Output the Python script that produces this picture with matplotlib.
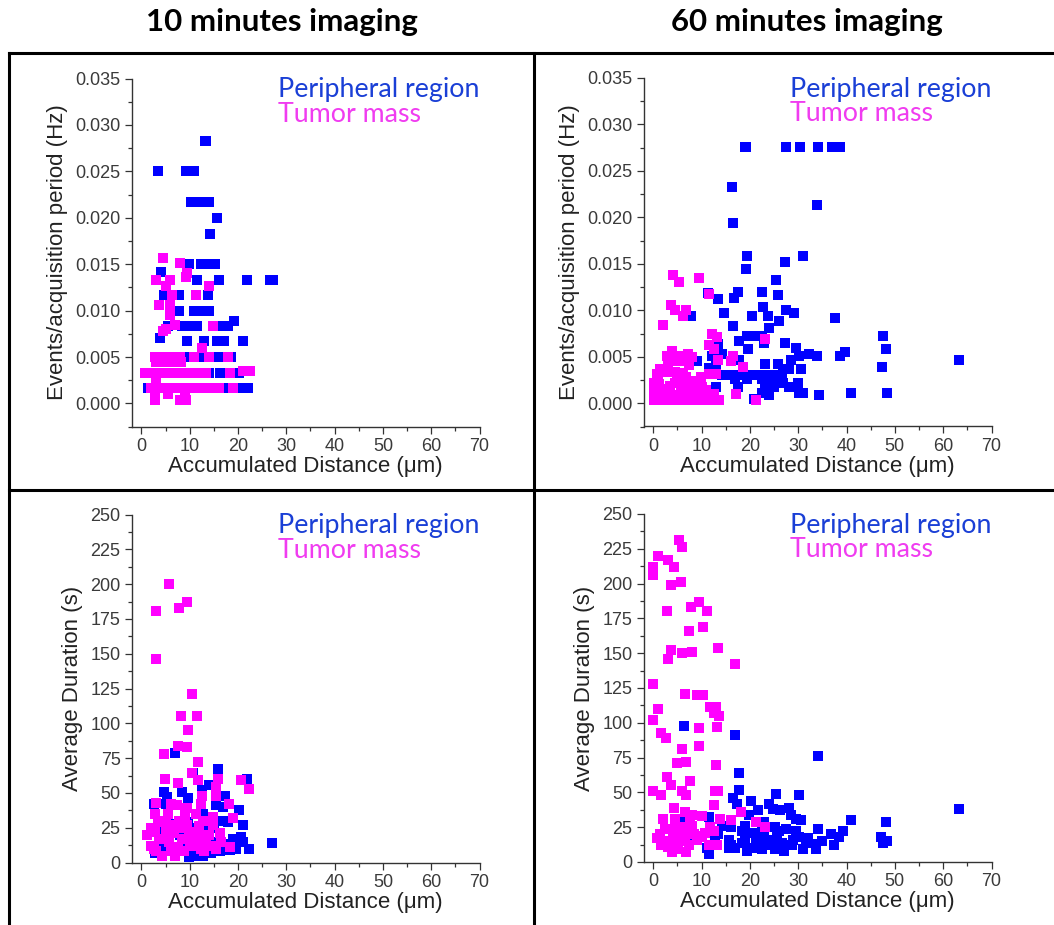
import matplotlib
matplotlib.use("Agg")
import matplotlib.pyplot as plt
from matplotlib.lines import Line2D
from matplotlib.ticker import MultipleLocator, FormatStrFormatter

plt.rcParams['font.family'] = ['Liberation Sans', 'DejaVu Sans']

# ---------------- 10 minutes: events / acquisition period ----------------
ev10_periph_x = [13.1, 13.4, 3.4, 9.2, 10.1, 11.0, 10.3, 12.4, 13.9, 15.7, 14.3,
                 9.8, 12.3, 14.1, 15.2, 4.0, 11.5, 16.0, 21.9, 26.7, 27.2,
                 4.7, 7.7, 13.8, 7.8, 10.8, 12.4, 14.1, 19.1,
                 5.5, 8.5, 10.0, 11.5, 17.0, 17.9, 3.9,
                 9.5, 12.9, 15.6, 17.2, 21.0,
                 2.8, 4.7, 9.3, 12.4, 16.0, 18.6,
                 1.5, 3.0, 14.1, 16.2, 18.3, 20.3,
                 1.4, 17.6, 20.3, 21.5, 22.1]
ev10_periph_y = [0.0283, 0.0283, 0.025, 0.025, 0.025, 0.025, 0.0217, 0.0217, 0.0217, 0.020, 0.0183,
                 0.015, 0.015, 0.015, 0.015, 0.0142, 0.0133, 0.0133, 0.0133, 0.0133, 0.0133,
                 0.0117, 0.0117, 0.0117, 0.010, 0.010, 0.010, 0.010, 0.0089,
                 0.0083, 0.0083, 0.0083, 0.0083, 0.0083, 0.0083, 0.0070,
                 0.0067, 0.0067, 0.0067, 0.0067, 0.0067,
                 0.005, 0.005, 0.005, 0.005, 0.005, 0.005,
                 0.0033, 0.0033, 0.0033, 0.0033, 0.0033, 0.0033,
                 0.0017, 0.0017, 0.0017, 0.0017, 0.0017]

ev10_tumor_x = [4.5, 8.1, 9.4, 9.2, 3.1, 6.0, 5.0, 14.0, 6.3, 11.4, 3.7, 6.0, 6.0, 6.9, 14.8,
                4.5, 5.2, 12.6,
                2.8, 3.8, 4.8, 5.8, 6.9, 7.9, 11.0, 14.1, 18.0,
                3.1, 5.2, 6.5, 8.3,
                0.7, 1.8, 2.8, 4.0, 5.2, 6.3, 7.5, 8.7, 10.0, 11.5, 13.4, 18.3, 21.0, 22.5,
                2.0, 3.0, 4.2, 5.3, 6.5, 7.6, 8.8, 10.0, 11.2, 12.4, 13.6, 14.8, 16.0, 19.0,
                3.0, 3.0, 2.8, 2.8, 5.5, 9.0, 2.8, 7.9, 9.3]
ev10_tumor_y = [0.0157, 0.0151, 0.0141, 0.0136, 0.0133, 0.0133, 0.0126, 0.0126, 0.0117, 0.0117,
                0.0106, 0.0106, 0.0095, 0.0085, 0.0083,
                0.0078, 0.0080, 0.0060,
                0.005, 0.005, 0.005, 0.005, 0.005, 0.005, 0.005, 0.005, 0.005,
                0.0045, 0.0045, 0.0045, 0.0045,
                0.0033, 0.0033, 0.0033, 0.0033, 0.0033, 0.0033, 0.0033, 0.0033, 0.0033, 0.0033,
                0.0033, 0.0033, 0.0035, 0.0035,
                0.0017, 0.0017, 0.0017, 0.0017, 0.0017, 0.0017, 0.0017, 0.0017, 0.0017, 0.0017,
                0.0017, 0.0017, 0.0017, 0.0017,
                0.0027, 0.0022, 0.0012, 0.0010, 0.0010, 0.0010, 0.0004, 0.0004, 0.0004]

# ---------------- 60 minutes: events / acquisition period ----------------
ev60_periph_x = [18.9, 19.2, 27.5, 30.3, 34.1, 36.9, 38.6, 16.3, 33.9, 16.6, 19.4, 31.0, 27.2,
                 19.2, 25.4, 11.4, 13.4, 16.8, 17.5, 22.5, 25.8, 22.7, 14.7, 7.9, 20.4, 23.7,
                 27.5, 29.2, 37.6, 16.6, 26.1, 23.9, 47.6, 17.8, 19.5, 21.0, 22.6, 27.2, 23.0,
                 13.4, 48.1, 19.7, 29.6, 39.6, 38.6, 32.2, 33.9, 30.1, 14.3, 12.1, 63.2, 47.3,
                 6.0, 9.1, 17.8, 23.2, 25.8, 26.8, 28.2, 30.5, 28.6, 13.0, 11.6,
                 14.3, 15.5, 16.5, 17.5, 18.7, 19.9, 21.0, 22.0, 23.2, 24.5, 25.5, 26.6,
                 17.0, 19.4, 22.6, 24.9, 23.9, 26.0, 30.0, 26.8,
                 17.5, 25.1, 28.0, 23.2, 13.0, 22.6, 30.2, 31.0, 41.0, 48.4, 23.9, 34.4, 20.8]
ev60_periph_y = [0.0276, 0.0276, 0.0276, 0.0276, 0.0276, 0.0276, 0.0276, 0.0233, 0.0213, 0.0194,
                 0.0158, 0.0158, 0.0152, 0.0144, 0.0133, 0.0119, 0.0112, 0.0113, 0.0120, 0.0120,
                 0.0117, 0.0104, 0.0097, 0.0094, 0.0094, 0.0094, 0.0100, 0.0097, 0.0092, 0.0083,
                 0.0088, 0.0081, 0.0072, 0.0067, 0.0072, 0.0072, 0.0072, 0.0065, 0.0065, 0.0064,
                 0.0058, 0.0058, 0.0059, 0.0055, 0.0051, 0.0053, 0.0051, 0.0051, 0.0053, 0.0051,
                 0.0047, 0.0039, 0.0045, 0.0045, 0.0047, 0.0042, 0.0042, 0.0037, 0.0037, 0.0037,
                 0.0047, 0.0040, 0.0038,
                 0.0030, 0.0030, 0.0030, 0.0030, 0.0030, 0.0030, 0.0030, 0.0030, 0.0030, 0.0030,
                 0.0030, 0.0030,
                 0.0026, 0.0026, 0.0026, 0.0026, 0.0022, 0.0022, 0.0022, 0.0022,
                 0.0017, 0.0017, 0.0017, 0.0017, 0.0017, 0.0011, 0.0011, 0.0011, 0.0011, 0.0011,
                 0.0009, 0.0009, 0.0005]

ev60_tumor_x = [4.2, 5.3, 9.5, 11.6, 3.7, 4.6, 6.7, 6.2, 2.1, 12.1, 13.2, 23.2, 11.6, 12.6,
                13.5, 16.6, 16.1, 18.5, 17.1, 21.3, 11.6, 13.0,
                3.8, 2.8, 5.7, 7.3, 8.1, 3.3, 5.0, 6.6, 1.5, 2.6, 4.6, 6.2, 0.7, 6.7, 8.1,
                0.1, 4.6, 9.5, 10.2, 0.1, 1.9, 5.7, 7.4, 0.1, 1.5, 4.0, 6.7, 8.8, 12.6,
                0.1, 1.9, 3.3, 5.3, 7.4, 9.5, 11.6, 13.7, 1.2, 10.5,
                0.5, 1.0, 2.5, 3.5, 5.0, 6.0, 7.0, 8.5, 9.8, 11.0, 12.0, 3.0, 7.5,
                0.5, 2.0, 4.8, 6.2, 9.0, 10.8]
ev60_tumor_y = [0.0138, 0.0131, 0.0135, 0.0118, 0.0106, 0.0100, 0.0100, 0.0094, 0.0084, 0.0075,
                0.0071, 0.0069, 0.0063, 0.0058, 0.0047, 0.0051, 0.0045, 0.0039, 0.0010, 0.0003,
                0.0032, 0.0031,
                0.0056, 0.0051, 0.0051, 0.0053, 0.0050, 0.0045, 0.0045, 0.0046, 0.0037, 0.0034,
                0.0034, 0.0033, 0.0031, 0.0028, 0.0024,
                0.0022, 0.0022, 0.0022, 0.0017, 0.0015, 0.0015, 0.0015, 0.0015,
                0.0008, 0.0009, 0.0009, 0.0009, 0.0009, 0.0010,
                0.0003, 0.0003, 0.0003, 0.0003, 0.0003, 0.0003, 0.0003, 0.0003, 0.0021, 0.0010,
                0.0018, 0.0026, 0.0012, 0.0019, 0.0026, 0.0013, 0.0020, 0.0015, 0.0028, 0.0014,
                0.0006, 0.0040, 0.0041,
                0.0013, 0.0005, 0.0006, 0.0005, 0.0005, 0.0004]

# ---------------- 10 minutes: average duration ----------------
dur10_periph_x = [7.0, 15.9, 21.8, 10.6, 4.7, 8.5, 12.6, 13.9, 5.4, 9.6, 17.3, 2.6, 5.0, 15.5,
                  16.9, 20.2, 12.7, 16.9, 9.6, 21.0, 27.0, 22.2, 13.4, 11.3, 19.0, 20.6, 14.8,
                  16.2, 3.6, 2.9, 5.7, 9.9, 10.6, 12.7, 14.5, 16.2, 18.3, 15.5, 12.7, 9.9, 7.1,
                  8.5, 6.4, 3.6, 14.1, 12.0,
                  6.0, 8.0, 10.0, 13.0, 15.0, 17.5, 19.5, 11.5, 7.5, 4.5, 18.0, 21.0]
dur10_periph_y = [79, 67, 60, 64, 51, 51, 52, 56, 47, 46, 48, 42, 42, 41,
                  40, 38, 35, 30, 29, 27, 14, 10, 24, 21, 17, 18, 15,
                  12, 24, 7, 9, 4, 5, 5, 7, 8, 9, 10, 14, 17, 23,
                  12, 11, 15, 20, 8,
                  28, 20, 25, 18, 25, 13, 10, 12, 9, 12, 29, 15]

dur10_tumor_x = [5.7, 3.1, 7.8, 9.4, 3.1, 10.4, 8.3, 11.5, 9.6, 4.7, 7.6, 9.4, 11.8, 4.9, 7.5,
                 10.4, 11.8, 15.9, 20.6, 22.2, 3.1, 2.9, 6.1, 7.3, 12.6, 12.4, 15.5, 15.5, 18.2,
                 19.0, 14.9, 9.4, 11.3, 12.7, 7.8, 5.0, 14.8, 16.2, 18.3,
                 1.2, 1.9, 2.9, 3.6, 4.3, 5.0, 5.7, 6.8, 7.5, 8.5, 8.9, 9.9, 10.6, 11.7, 12.4,
                 13.4, 14.1, 15.5, 2.6, 4.0, 6.1, 9.4, 11.9,
                 2.0, 3.5, 5.5, 6.5, 8.0, 9.0, 10.0, 12.0, 13.0, 14.5, 3.0, 5.0, 7.0, 16.5]
dur10_tumor_y = [200, 181, 183, 187, 146, 121, 105, 105, 95, 78, 84, 83, 72, 60, 57,
                 64, 59, 60, 59, 53, 43, 35, 42, 41, 48, 42, 54, 48, 42,
                 32, 33, 39, 35, 30, 30, 29, 27, 21, 11,
                 20, 12, 22, 17, 5, 24, 15, 21, 11, 17, 8, 22, 12, 17, 10,
                 15, 20, 10, 10, 29, 8, 27, 26,
                 25, 30, 35, 27, 25, 34, 15, 20, 8, 12, 8, 18, 5, 15]

# ---------------- 60 minutes: average duration ----------------
dur60_periph_x = [6.4, 17.0, 34.2, 17.7, 17.7, 16.5, 17.4, 20.3, 25.5, 30.2, 24.0, 24.7, 26.2,
                  28.1, 28.5, 19.8, 21.7, 63.2, 41.0, 48.1, 34.0, 36.8, 39.2, 38.5, 37.5, 47.2,
                  47.6, 48.3, 29.5, 30.6, 27.4, 25.3, 22.9, 11.5, 6.6, 8.0, 11.5, 11.1, 14.2,
                  12.8, 15.6, 17.0, 18.4, 19.4, 20.5, 21.9, 22.6, 24.0, 25.3, 26.7, 27.1, 28.8,
                  30.2, 30.9, 31.6, 33.7, 33.7, 18.4, 22.6, 19.1, 21.2, 24.3, 15.6, 25.6, 29.5,
                  13.5, 16.0, 19.0, 23.0, 26.0, 29.0, 32.0, 35.0, 21.0, 26.0, 16.0]
dur60_periph_y = [98, 91, 76, 64, 52, 46, 42, 44, 49, 48, 42, 38, 37,
                  39, 34, 34, 37, 38, 30, 29, 24, 20, 22, 18, 12, 18,
                  14, 15, 31, 30, 24, 25, 29, 32, 29, 18, 6, 10, 26,
                  16, 16, 10, 14, 8, 21, 13, 9, 16, 9, 14, 8, 12,
                  18, 9, 14, 13, 9, 22, 22, 26, 16, 12, 10, 19, 22,
                  20, 25, 15, 18, 22, 16, 17, 15, 10, 12, 12]

dur60_tumor_x = [5.3, 5.9, 1.0, 3.1, 4.4, 0.0, 0.0, 0.0, 3.7, 5.8, 9.4, 7.8, 11.1, 2.9, 10.4,
                 7.4, 13.5, 3.6, 3.0, 6.0, 8.0, 16.9, 0.0, 6.6, 9.0, 10.4, 11.8, 13.1, 13.7,
                 12.5, 1.0, 0.0, 9.5, 13.3, 1.7, 2.6, 9.4, 6.0, 4.9, 6.7, 13.0, 0.0, 1.7, 2.8,
                 3.6, 7.6, 5.9, 6.7, 12.7, 13.5, 12.5, 4.3, 4.5, 6.6, 8.0, 10.1, 13.8, 16.0,
                 18.1, 21.2, 23.1, 2.4, 4.5, 5.6, 6.9, 9.0, 10.8, 11.8, 11.5, 13.2, 0.7, 1.7,
                 3.1, 3.8, 5.2, 6.6, 6.7, 9.0, 8.0, 3.1, 5.9, 7.6,
                 1.5, 2.5, 4.0, 5.0, 7.5, 8.5, 10.0, 12.5, 2.0, 6.0]
dur60_tumor_y = [231, 226, 220, 217, 212, 212, 208, 206, 199, 201, 187, 183, 180, 180, 169,
                 166, 154, 152, 146, 150, 151, 142, 128, 121, 120, 120, 111, 111, 105,
                 107, 110, 102, 96, 97, 93, 89, 83, 81, 71, 72, 70, 51, 48, 61,
                 55, 58, 51, 48, 51, 51, 41, 39, 31, 36, 34, 33, 31, 30,
                 36, 29, 25, 24, 25, 21, 22, 19, 21, 25, 12, 12, 17, 12,
                 15, 7, 12, 15, 7, 16, 26, 11, 18, 30,
                 20, 14, 18, 9, 12, 20, 18, 22, 31, 25]

BLUE = '#0000ff'
MAGENTA = '#ff00ff'
LEG_BLUE = '#1a3fd6'
LEG_MAGENTA = '#f03cf0'
AX_GREY = '#333333'

W, H = 1054, 925
fig = plt.figure(figsize=(W / 100, H / 100), dpi=100)


def px_axes(left, top, right, bottom):
    # axes rectangle given in pixel coordinates (origin top-left)
    return fig.add_axes([left / W, 1 - bottom / H, (right - left) / W, (bottom - top) / H])


def draw_panel(ax, px, py, tx, ty, ylim, ymaj, yfmt, ylabel):
    ax.plot(px, py, 's', color=BLUE, ms=6.9, mew=0, zorder=3)
    ax.plot(tx, ty, 's', color=MAGENTA, ms=6.9, mew=0, zorder=4)
    ax.set_xlim(-2, 70)
    ax.set_ylim(*ylim)
    ax.xaxis.set_major_locator(MultipleLocator(10))
    ax.xaxis.set_minor_locator(MultipleLocator(5))
    ax.yaxis.set_major_locator(MultipleLocator(ymaj))
    ax.yaxis.set_minor_locator(MultipleLocator(ymaj / 2))
    ax.yaxis.set_major_formatter(FormatStrFormatter(yfmt))
    for s in ('top', 'right'):
        ax.spines[s].set_visible(False)
    for s in ('left', 'bottom'):
        ax.spines[s].set_color(AX_GREY)
        ax.spines[s].set_linewidth(1.0)
    ax.tick_params(which='major', direction='out', length=5, width=0.9,
                   color=AX_GREY, labelsize=13, labelcolor='#3a3a3a', pad=3)
    ax.tick_params(which='minor', direction='out', length=3, width=0.9, color=AX_GREY)
    ax.set_xlabel('Accumulated Distance (μm)', fontsize=16, color='#222222', labelpad=1)
    ax.set_ylabel(ylabel, fontsize=16, color='#222222', labelpad=5)
    ax.text(0.42, 0.968, 'Peripheral region', transform=ax.transAxes, color=LEG_BLUE,
            fontsize=19.3, family='Lato', va='center', ha='left')
    ax.text(0.42, 0.897, 'Tumor mass', transform=ax.transAxes, color=LEG_MAGENTA,
            fontsize=19.3, family='Lato', va='center', ha='left')


ax1 = px_axes(131.7, 78.5, 479.5, 426.7)
ax2 = px_axes(643.5, 78.0, 991.5, 426.5)
ax3 = px_axes(131.7, 514.5, 479.5, 862.5)
ax4 = px_axes(643.5, 514.0, 991.5, 862.0)

ev_label = 'Events/acquisition period (Hz)'
dur_label = 'Average Duration (s)'
draw_panel(ax1, ev10_periph_x, ev10_periph_y, ev10_tumor_x, ev10_tumor_y,
           (-0.0025, 0.035), 0.005, '%.3f', ev_label)
draw_panel(ax2, ev60_periph_x, ev60_periph_y, ev60_tumor_x, ev60_tumor_y,
           (-0.0025, 0.035), 0.005, '%.3f', ev_label)
draw_panel(ax3, dur10_periph_x, dur10_periph_y, dur10_tumor_x, dur10_tumor_y,
           (0, 250), 25, '%d', dur_label)
draw_panel(ax4, dur60_periph_x, dur60_periph_y, dur60_tumor_x, dur60_tumor_y,
           (0, 250), 25, '%d', dur_label)

# column headings
fig.text(282 / W, 1 - 22 / H, '10 minutes imaging', ha='center', va='center',
         fontsize=22.5, fontweight='bold', family='Lato')
fig.text(807 / W, 1 - 22 / H, '60 minutes imaging', ha='center', va='center',
         fontsize=22.5, fontweight='bold', family='Lato')

# black frame around the four panels
frame_lw = 2.2
x_left, x_mid = 9 / W, 533.5 / W
y_top, y_mid = 1 - 52.5 / H, 1 - 489.7 / H
for xs, ys in [([x_left, 1], [y_top, y_top]), ([x_left, 1], [y_mid, y_mid]),
               ([x_left, x_left], [0, y_top]), ([x_mid, x_mid], [0, y_top])]:
    fig.add_artist(Line2D(xs, ys, transform=fig.transFigure, color='black', lw=frame_lw))

fig.savefig('out.png', dpi=100)
